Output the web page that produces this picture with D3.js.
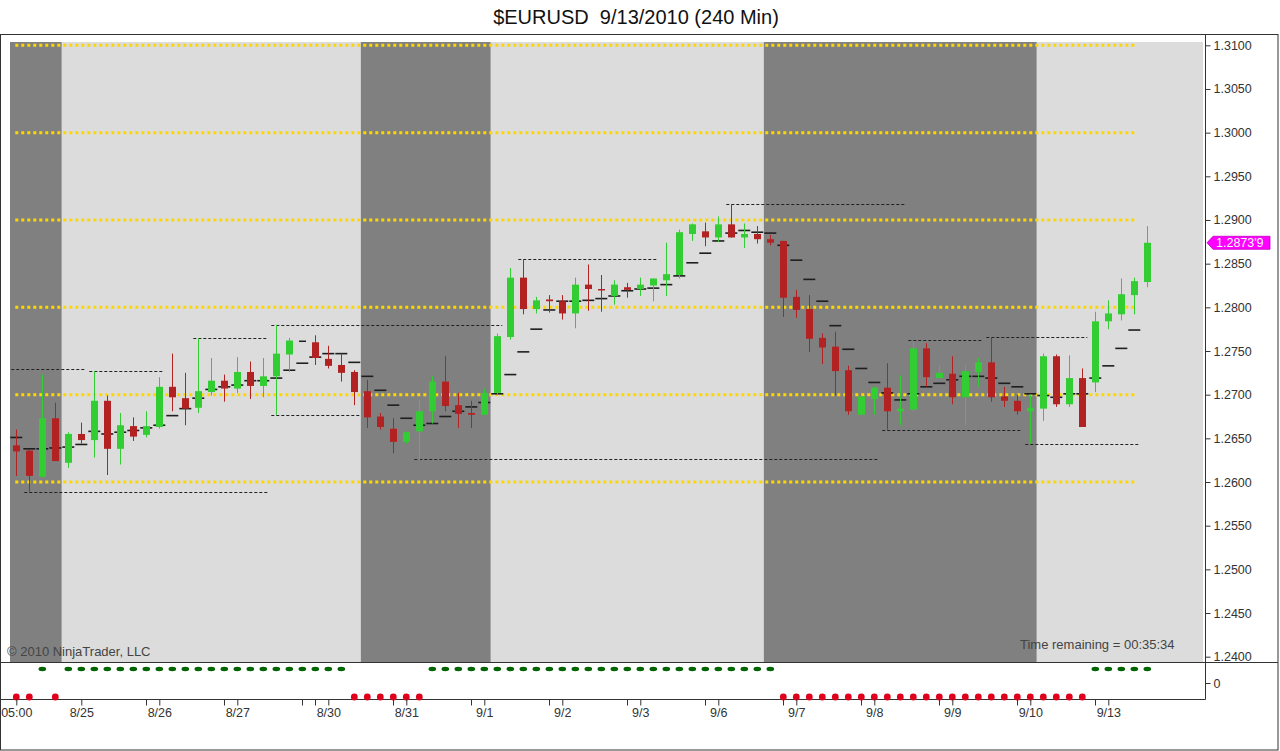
<!DOCTYPE html>
<html>
<head>
<meta charset="utf-8">
<script src="https://cdn.jsdelivr.net/npm/d3@7"></script>
<style>
  html, body { margin: 0; padding: 0; background: #fff; }
  svg { display: block; font-family: "Liberation Sans", Arial, sans-serif; }
</style>
</head>
<body>
<svg id="chart" width="1280" height="751"></svg>
<script>
// ---------------- DATA ----------------
const title = "$EURUSD  9/13/2010 (240 Min)";
const openVals  = [1.2642,1.2636,1.2606,1.2673,1.2622,1.2655,1.2648,1.2693,1.2638,1.2664,1.2654,1.2663,1.2709,1.2696,1.2685,1.2703,1.2716,1.2707,1.2726,1.2710,1.2721,1.2746,1.2762,1.2760,1.2741,1.2734,1.2726,1.2704,1.2675,1.2661,1.2646,1.2658,1.2681,1.2715,1.2688,1.2679,1.2677,1.2702,1.2766,1.2834,1.2798,1.2809,1.2807,1.2793,1.2826,1.2821,1.2813,1.2823,1.2821,1.2825,1.2831,1.2837,1.2884,1.2887,1.2880,1.2895,1.2880,1.2884,1.2878,1.2876,1.2812,1.2798,1.2765,1.2755,1.2728,1.2677,1.2695,1.2708,1.2681,1.2683,1.2753,1.2719,1.2724,1.2697,1.2726,1.2737,1.2698,1.2693,1.2681,1.2684,1.2744,1.2689,1.2719,1.2714,1.2784,1.2792,1.2814,1.2829];
const highVals  = [1.2660,1.2637,1.2723,1.2691,1.2657,1.2668,1.2727,1.2699,1.2679,1.2674,1.2681,1.2720,1.2747,1.2725,1.2765,1.2742,1.2723,1.2743,1.2738,1.2742,1.2780,1.2765,1.2762,1.2768,1.2756,1.2747,1.2728,1.2717,1.2679,1.2673,1.2658,1.2694,1.2721,1.2744,1.2702,1.2693,1.2707,1.2770,1.2845,1.2855,1.2812,1.2814,1.2814,1.2834,1.2849,1.2837,1.2831,1.2828,1.2834,1.2833,1.2874,1.2889,1.2896,1.2897,1.2904,1.2918,1.2896,1.2893,1.2883,1.2876,1.2820,1.2814,1.2770,1.2772,1.2733,1.2698,1.2709,1.2736,1.2722,1.2761,1.2759,1.2734,1.2744,1.2734,1.2742,1.2766,1.2709,1.2700,1.2700,1.2747,1.2746,1.2745,1.2730,1.2795,1.2808,1.2833,1.2834,1.2893];
const lowVals   = [1.2607,1.2589,1.2606,1.2624,1.2616,1.2644,1.2628,1.2608,1.2620,1.2647,1.2651,1.2661,1.2681,1.2665,1.2679,1.2699,1.2692,1.2702,1.2695,1.2697,1.2677,1.2726,1.2762,1.2734,1.2730,1.2715,1.2688,1.2662,1.2660,1.2633,1.2644,1.2625,1.2667,1.2681,1.2662,1.2662,1.2677,1.2700,1.2763,1.2792,1.2793,1.2794,1.2786,1.2776,1.2796,1.2795,1.2803,1.2811,1.2813,1.2807,1.2813,1.2833,1.2876,1.2870,1.2875,1.2880,1.2868,1.2873,1.2871,1.2789,1.2788,1.2749,1.2735,1.2699,1.2677,1.2677,1.2677,1.2660,1.2665,1.2681,1.2709,1.2719,1.2689,1.2665,1.2709,1.2692,1.2686,1.2677,1.2644,1.2670,1.2686,1.2686,1.2663,1.2703,1.2775,1.2785,1.2792,1.2823];
const closeVals = [1.2635,1.2607,1.2673,1.2624,1.2655,1.2648,1.2693,1.2638,1.2665,1.2652,1.2664,1.2709,1.2697,1.2684,1.2704,1.2716,1.2707,1.2726,1.2710,1.2721,1.2747,1.2762,1.2762,1.2742,1.2733,1.2725,1.2703,1.2674,1.2663,1.2646,1.2657,1.2681,1.2715,1.2687,1.2678,1.2677,1.2702,1.2767,1.2834,1.2798,1.2808,1.2807,1.2793,1.2826,1.2821,1.2820,1.2826,1.2820,1.2826,1.2833,1.2838,1.2886,1.2895,1.2880,1.2895,1.2880,1.2884,1.2878,1.2874,1.2811,1.2797,1.2764,1.2754,1.2727,1.2681,1.2698,1.2708,1.2681,1.2684,1.2753,1.2720,1.2725,1.2697,1.2727,1.2737,1.2697,1.2693,1.2681,1.2685,1.2744,1.2689,1.2719,1.2663,1.2784,1.2793,1.2815,1.2830,1.28739];
// short horizontal indicator marks (one per bar)
const markVals  = [1.2651,1.2638,1.2638,1.2639,1.2640,1.2643,1.2658,1.2655,1.2657,1.2659,1.2662,1.2665,1.2676,1.2684,1.2696,1.2706,1.2709,1.2711,1.2716,1.2716,1.2719,1.2728,1.2736,1.2743,1.2747,1.2747,1.2737,1.2721,1.2705,1.2688,1.2673,1.2665,1.2667,1.2675,1.2681,1.2686,1.2691,1.2701,1.2723,1.2749,1.2775,1.2797,1.2807,1.2807,1.2808,1.2810,1.2813,1.2819,1.2821,1.2822,1.2826,1.2836,1.2851,1.2862,1.2876,1.2885,1.2888,1.2886,1.2885,1.2871,1.2854,1.2832,1.2807,1.2779,1.2752,1.2730,1.2714,1.2702,1.2694,1.2701,1.2709,1.2713,1.2717,1.2721,1.2721,1.2719,1.2713,1.2709,1.2701,1.2699,1.2697,1.2701,1.2701,1.2719,1.2733,1.2753,1.2774,null];
// lower-panel signal per bar: 1 = green (up), -1 = red (down)
const signalVals = [-1,-1,1,-1,1,1,1,1,1,1,1,1,1,1,1,1,1,1,1,1,1,1,1,1,1,1,-1,-1,-1,-1,-1,-1,1,1,1,1,1,1,1,1,1,1,1,1,1,1,1,1,1,1,1,1,1,1,1,1,1,1,1,-1,-1,-1,-1,-1,-1,-1,-1,-1,-1,-1,-1,-1,-1,-1,-1,-1,-1,-1,-1,-1,-1,-1,-1,1,1,1,1,1];
// background session shading: [firstBar, lastBar, dark?]
const shadeFrom = [0, 4, 27, 37, 58, 79];
const shadeTo   = [3, 26, 36, 57, 78, 87];
const shadeDark = [true, false, true, false, true, false];
// dotted black levels
const levelPrice = [1.2729,1.2727,1.2588,1.2765,1.2780,1.2677,1.2626,1.2855,1.2918,1.2763,1.2766,1.2660,1.2644];
const levelFrom  = [0,6,1,14,20,20,31,39,55,69,75,67,78];
const levelTo    = [5,11,19,19,37,26,66,49,68,74,82,77,86];
// gold round-number levels
const goldLevels = [1.31,1.30,1.29,1.28,1.27,1.26];
const goldEndBar = 86;
// axis ticks
const priceTicks = [1.24,1.245,1.25,1.255,1.26,1.265,1.27,1.275,1.28,1.285,1.29,1.295,1.30,1.305,1.31];
const dateTickBars = [0,5,11,17,24,30,36,42,48,54,60,66,72,78,84];
const dateTickLabels = ["05:00","8/25","8/26","8/27","8/30","8/31","9/1","9/2","9/3","9/6","9/7","9/8","9/9","9/10","9/13"];
const minorTickBars = [10,16,22,23,29,35,41,47,53,59,65,71,77,83];
const lastPriceLabel = "1.2873'9";

// ---------------- LAYOUT ----------------
const svg = d3.select("#chart");
const plotL = 10, plotR = 1203, plotT = 42, plotB = 662;
const axisX = 1205.5;
const indTop = 662.5, indAxisY = 699.5;
const n = closeVals.length;

const x = d3.scaleLinear().domain([0, n - 1]).range([16.3, 16.3 + 13 * (n - 1)]);
const y = d3.scaleLinear().domain([1.24, 1.31]).range([656.7, 45.3]);
const step = 13;

svg.append("rect").attr("width", 1280).attr("height", 751).attr("fill", "#fff");

// title
svg.append("text").attr("x", 636).attr("y", 24).attr("text-anchor", "middle")
  .attr("font-size", 20).attr("fill", "#111").style("white-space", "pre").text(title);

// background shading
shadeFrom.forEach((f, k) => {
  const x0 = k === 0 ? plotL : x(f) - step / 2;
  const x1 = k === shadeFrom.length - 1 ? plotR : x(shadeTo[k]) + step / 2;
  svg.append("rect").attr("x", x0).attr("y", plotT).attr("width", x1 - x0).attr("height", plotB - plotT)
    .attr("fill", shadeDark[k] ? "#808080" : "#dcdcdc");
});

// gold dotted levels
svg.append("g").selectAll("line").data(goldLevels).join("line")
  .attr("x1", x(0) - 1).attr("x2", x(goldEndBar))
  .attr("y1", d => y(d)).attr("y2", d => y(d))
  .attr("stroke", "#ffd700").attr("stroke-width", 3).attr("stroke-dasharray", "3,3");

// black dotted levels
svg.append("g").selectAll("line").data(levelPrice).join("line")
  .attr("x1", (d, i) => x(levelFrom[i]) - 5).attr("x2", (d, i) => x(levelTo[i]) + 5)
  .attr("y1", d => Math.round(y(d)) + 0.5).attr("y2", d => Math.round(y(d)) + 0.5)
  .attr("stroke", "#222").attr("stroke-width", 1).attr("stroke-dasharray", "3,2");

// indicator marks
const marks = markVals.map((v, i) => ({ i, v })).filter(d => d.v !== null);
svg.append("g").selectAll("line").data(marks).join("line")
  .attr("x1", d => x(d.i) - 6).attr("x2", d => x(d.i) + 6)
  .attr("y1", d => y(d.v)).attr("y2", d => y(d.v))
  .attr("stroke", "#1e1e1e").attr("stroke-width", 1.6);

// candles
const bars = closeVals.map((c, i) => ({ i, o: openVals[i], h: highVals[i], l: lowVals[i], c }));
const colorOf = d => d.c > d.o ? "#32cd32" : (d.c < d.o ? "#b22222" : "#222");
const cg = svg.append("g");
cg.selectAll("line.wick").data(bars).join("line").attr("class", "wick")
  .attr("x1", d => Math.round(x(d.i)) + 0.5).attr("x2", d => Math.round(x(d.i)) + 0.5)
  .attr("y1", d => y(d.h)).attr("y2", d => y(d.l))
  .attr("stroke", colorOf).attr("stroke-width", 1);
cg.selectAll("rect.body").data(bars).join("rect").attr("class", "body")
  .attr("x", d => Math.round(x(d.i)) - 3).attr("width", 7)
  .attr("y", d => y(Math.max(d.o, d.c)))
  .attr("height", d => Math.max(1.5, Math.abs(y(d.o) - y(d.c))))
  .attr("fill", colorOf);

// frame lines
svg.append("rect").attr("x", 0.5).attr("y", 34.5).attr("width", 1277.5).attr("height", 715.5)
  .attr("fill", "none").attr("stroke", "#333");
svg.append("line").attr("x1", 0).attr("x2", 1278).attr("y1", indTop).attr("y2", indTop).attr("stroke", "#333");
svg.append("line").attr("x1", axisX).attr("x2", axisX).attr("y1", 34.5).attr("y2", indAxisY).attr("stroke", "#333");
svg.append("line").attr("x1", 0).attr("x2", axisX).attr("y1", indAxisY).attr("y2", indAxisY).attr("stroke", "#333");

// price axis
const yAxis = d3.axisRight(y).tickValues(priceTicks).tickFormat(d3.format(".4f")).tickSize(5).tickPadding(3);
const ya = svg.append("g").attr("transform", `translate(${axisX},0)`).call(yAxis);
ya.select(".domain").remove();
ya.selectAll("line").attr("stroke", "#333");
ya.selectAll("text").attr("font-size", 12.5).attr("fill", "#333").attr("font-family", "Liberation Sans, Arial, sans-serif");

// indicator panel zero
const yInd = d3.scaleLinear().domain([-1, 1]).range([indAxisY - 2.5, indTop + 6.5]);
const ia = svg.append("g").attr("transform", `translate(${axisX},0)`)
  .call(d3.axisRight(yInd).tickValues([0]).tickFormat(d3.format("d")).tickSize(5).tickPadding(3));
ia.select(".domain").remove();
ia.selectAll("line").attr("stroke", "#333");
ia.selectAll("text").attr("font-size", 12.5).attr("fill", "#333").attr("font-family", "Liberation Sans, Arial, sans-serif");

// signal dots
const sig = signalVals.map((s, i) => ({ i, s }));
svg.append("g").selectAll("ellipse").data(sig.filter(d => d.s > 0)).join("ellipse")
  .attr("cx", d => x(d.i)).attr("cy", d => yInd(d.s)).attr("rx", 3.8).attr("ry", 2.2).attr("fill", "#006400");
svg.append("g").selectAll("circle").data(sig.filter(d => d.s < 0)).join("circle")
  .attr("cx", d => x(d.i)).attr("cy", d => yInd(d.s)).attr("r", 3.4).attr("fill", "#e0001b");

// time axis
const xa = svg.append("g").attr("transform", `translate(0,${indAxisY})`)
  .call(d3.axisBottom(x).tickValues(dateTickBars).tickFormat((d, k) => dateTickLabels[k]).tickSize(6).tickPadding(3));
xa.select(".domain").remove();
xa.selectAll("line").attr("stroke", "#333");
xa.selectAll("text").attr("font-size", 12.5).attr("fill", "#333").attr("font-family", "Liberation Sans, Arial, sans-serif");
svg.append("g").selectAll("line").data(minorTickBars).join("line")
  .attr("x1", d => Math.round(x(d)) + 0.5).attr("x2", d => Math.round(x(d)) + 0.5)
  .attr("y1", indAxisY).attr("y2", indAxisY + 6).attr("stroke", "#333");

// last price tag
const ly = y(closeVals[n - 1]);
svg.append("path")
  .attr("d", `M1207,${ly} L1213,${ly - 6.5} L1270,${ly - 6.5} L1270,${ly + 6.5} L1213,${ly + 6.5} Z`)
  .attr("fill", "#ff00ff").attr("stroke", "#c000c0").attr("stroke-width", 0.8);
svg.append("text").attr("x", 1216).attr("y", ly + 4.5).attr("font-size", 12.5).attr("fill", "#fff").text(lastPriceLabel);

// footnotes
svg.append("text").attr("x", 7).attr("y", 656).attr("font-size", 13).attr("fill", "#444").text("© 2010 NinjaTrader, LLC");
svg.append("text").attr("x", 1020).attr("y", 649).attr("font-size", 13).attr("fill", "#444").text("Time remaining = 00:35:34");
</script>
</body>
</html>
